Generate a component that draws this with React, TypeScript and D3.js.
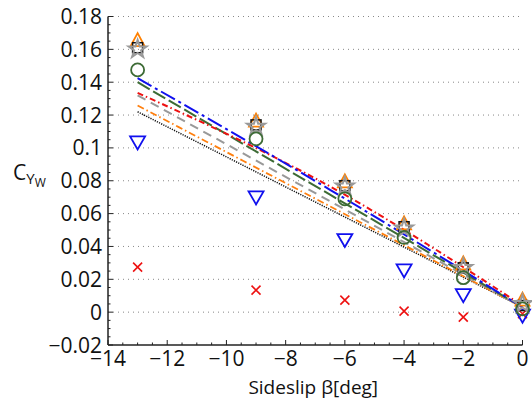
import { useRef, useEffect } from 'react';
import * as d3 from 'd3';

const BETA = [-13, -9, -6, -4, -2, 0];

// measured coefficients per configuration
const TRI_UP = [0.165, 0.116, 0.079, 0.0535, 0.029, 0.007];
const STAR = [0.160, 0.113, 0.0765, 0.051, 0.027, 0.005];
const SQUARE = [0.161, 0.114, 0.077, 0.052, 0.027, 0.004];
const CIRCLE = [0.1475, 0.1055, 0.069, 0.0455, 0.021, 0.002];
const TRI_DOWN = [0.104, 0.0705, 0.0445, 0.026, 0.011, -0.0015];
const CROSS = [0.0274, 0.0134, 0.0073, 0.0006, -0.003, -0.001];

// fitted curves, sampled at FIT_X
const FIT_X = [-13, -6.5, 0];
const FIT_BLUE = [0.1425, 0.0745, 0.003];
const FIT_RED = [0.1335, 0.0765, 0.004];
const FIT_GREEN = [0.14, 0.0715, 0.003];
const FIT_GREY = [0.132, 0.0675, 0.003];
const FIT_ORANGE = [0.1258, 0.0644, 0.003];
const FIT_BLACK = [0.122, 0.0625, 0.003];

const X_TICKS = [-14, -12, -10, -8, -6, -4, -2, 0];
const Y_TICKS = [-0.02, 0, 0.02, 0.04, 0.06, 0.08, 0.1, 0.12, 0.14, 0.16, 0.18];

const FONT = '"Open Sans", "Liberation Sans", sans-serif';

export default function App() {
  const svgRef = useRef<SVGSVGElement>(null);

  useEffect(() => {
    const svg = d3.select(svgRef.current);
    svg.selectAll('*').remove();

    const x = d3.scaleLinear().domain([-14, 0]).range([108, 522.5]);
    const y = d3.scaleLinear().domain([-0.02, 0.18]).range([345, 16.5]);

    // grid
    svg.append('g')
      .selectAll('line')
      .data(Y_TICKS.filter((t) => t > -0.02))
      .join('line')
      .attr('x1', x(-14))
      .attr('x2', x(0))
      .attr('y1', (d) => y(d))
      .attr('y2', (d) => y(d))
      .attr('stroke', '#888')
      .attr('stroke-width', 1)
      .attr('stroke-dasharray', '1,4');

    // axes with inward ticks
    const ax = svg.append('g').attr('stroke', '#222');
    ax.append('line').attr('x1', x(-14)).attr('x2', x(0)).attr('y1', y(-0.02)).attr('y2', y(-0.02)).attr('stroke-width', 1.5);
    ax.append('line').attr('x1', x(-14)).attr('x2', x(-14)).attr('y1', y(-0.02)).attr('y2', y(0.18)).attr('stroke-width', 1.5);

    const xMinor = d3.range(-14, 0.01, 0.5);
    ax.selectAll('.xt')
      .data(xMinor)
      .join('line')
      .attr('x1', (d) => x(d))
      .attr('x2', (d) => x(d))
      .attr('y1', y(-0.02))
      .attr('y2', (d) => y(-0.02) - (Math.abs(d % 2) < 1e-6 ? 5 : 2.5))
      .attr('stroke-width', 1);

    const yMinor = d3.range(0, 41).map((i) => -0.02 + i * 0.005);
    ax.selectAll('.yt')
      .data(yMinor)
      .join('line')
      .attr('y1', (d) => y(d))
      .attr('y2', (d) => y(d))
      .attr('x1', x(-14))
      .attr('x2', (_, i) => x(-14) + (i % 4 === 0 ? 5 : 2.5))
      .attr('stroke-width', 1);

    // tick labels
    svg.append('g')
      .selectAll('text')
      .data(Y_TICKS)
      .join('text')
      .attr('x', 102)
      .attr('y', (d) => y(d) + 7.5)
      .attr('text-anchor', 'end')
      .attr('font-family', FONT)
      .attr('font-size', 21)
      .attr('fill', '#111')
      .text((d) => (d === 0 ? '0' : String(+d.toFixed(2)).replace('-', '\u2212')));

    svg.append('g')
      .selectAll('text')
      .data(X_TICKS)
      .join('text')
      .attr('x', (d) => x(d))
      .attr('y', 366)
      .attr('text-anchor', 'middle')
      .attr('font-family', FONT)
      .attr('font-size', 21)
      .attr('fill', '#111')
      .text((d) => String(d).replace('-', '\u2212'));

    // axis titles
    const xt = svg.append('text')
      .attr('x', x(-7) - 2)
      .attr('y', 394)
      .attr('text-anchor', 'middle')
      .attr('font-family', FONT)
      .attr('font-size', 19)
      .attr('fill', '#111');
    xt.append('tspan').text('Sideslip ');
    xt.append('tspan').text('\u03b2[deg]');

    const yt = svg.append('text')
      .attr('x', 13)
      .attr('y', 180)
      .attr('font-family', FONT)
      .attr('fill', '#111');
    yt.append('tspan').attr('font-size', 21).text('C');
    yt.append('tspan').attr('font-size', 15).attr('dy', 4).text('Y');
    yt.append('tspan').attr('font-size', 12).attr('dy', 3).text('W');

    // fitted curves
    const line = d3.line<number>()
      .x((_, i) => x(FIT_X[i]))
      .y((d) => y(d))
      .curve(d3.curveNatural);
    const fits: [number[], string, string, number][] = [
      [FIT_BLACK, '#111', '1.2,1.2', 1.5],
      [FIT_ORANGE, '#ff7f0e', '7,3,1.5,3', 1.8],
      [FIT_GREY, '#999', '9,6', 2],
      [FIT_GREEN, '#3d6b35', '14,4', 2],
      [FIT_RED, '#ee1111', '6,3,1.5,3', 2],
      [FIT_BLUE, '#1010ee', '16,4,3,4', 2],
    ];
    svg.append('g')
      .selectAll('path')
      .data(fits)
      .join('path')
      .attr('d', (d) => line(d[0]))
      .attr('fill', 'none')
      .attr('stroke', (d) => d[1])
      .attr('stroke-dasharray', (d) => d[2])
      .attr('stroke-width', (d) => d[3]);

    const g = svg.append('g');

    // red crosses
    g.selectAll('.cross')
      .data(CROSS)
      .join('path')
      .attr('d', (d, i) => {
        const cx = x(BETA[i]);
        const cy = y(d);
        const s = 4.5;
        return `M${cx - s},${cy - s}L${cx + s},${cy + s}M${cx - s},${cy + s}L${cx + s},${cy - s}`;
      })
      .attr('stroke', '#ee1111')
      .attr('stroke-width', 1.6)
      .attr('fill', 'none');

    // blue down triangles
    g.selectAll('.tdown')
      .data(TRI_DOWN)
      .join('path')
      .attr('d', (d, i) => {
        const cx = x(BETA[i]);
        const cy = y(d);
        return `M${cx - 7.5},${cy - 5}L${cx + 7.5},${cy - 5}L${cx},${cy + 8}Z`;
      })
      .attr('stroke', '#1010ee')
      .attr('stroke-width', 1.8)
      .attr('fill', 'none');

    // orange up triangles
    g.selectAll('.tup')
      .data(TRI_UP)
      .join('path')
      .attr('d', (d, i) => {
        const cx = x(BETA[i]);
        const cy = y(d);
        return `M${cx - 7},${cy + 5}L${cx + 7},${cy + 5}L${cx},${cy - 8}Z`;
      })
      .attr('stroke', '#ff8000')
      .attr('stroke-width', 1.8)
      .attr('fill', 'none');

    // black squares
    g.selectAll('.sq')
      .data(SQUARE)
      .join('rect')
      .attr('x', (_, i) => x(BETA[i]) - 5)
      .attr('y', (d) => y(d) - 5)
      .attr('width', 10)
      .attr('height', 10)
      .attr('stroke', '#111')
      .attr('stroke-width', 1.5)
      .attr('fill', 'none');

    // grey stars
    const star = d3.symbol().type(d3.symbolStar).size(100);
    g.selectAll('.star')
      .data(STAR)
      .join('path')
      .attr('d', star)
      .attr('transform', (d, i) => `translate(${x(BETA[i])},${y(d)})`)
      .attr('stroke', '#999')
      .attr('stroke-width', 2)
      .attr('fill', 'none');

    // green circles
    g.selectAll('.circ')
      .data(CIRCLE)
      .join('circle')
      .attr('cx', (_, i) => x(BETA[i]))
      .attr('cy', (d) => y(d))
      .attr('r', 6.5)
      .attr('stroke', '#3d6b35')
      .attr('stroke-width', 1.8)
      .attr('fill', 'none');
  }, []);

  return (
    <svg
      ref={svgRef}
      width={532}
      height={403}
      style={{ position: 'absolute', left: 0, top: 0, background: '#fff' }}
    />
  );
}
